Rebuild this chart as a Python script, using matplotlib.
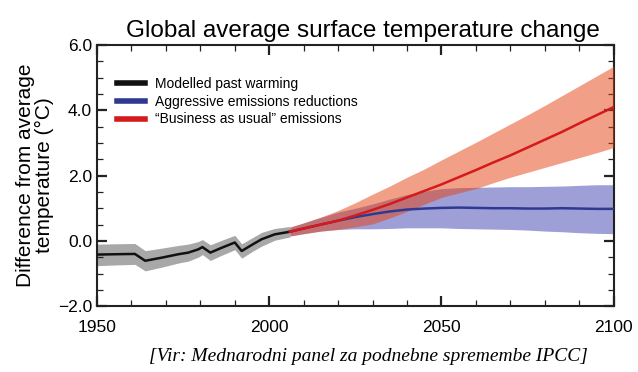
import matplotlib
matplotlib.use("Agg")
from matplotlib import pyplot as plt
from matplotlib.ticker import MultipleLocator

plt.rcParams['font.family'] = ['Liberation Sans', 'DejaVu Sans']

# modelled past warming
past_years = [1950, 1955, 1961, 1964, 1969, 1973.6, 1976.5, 1979.4, 1980.6, 1982.9,
              1986, 1990, 1992, 1995, 1997.8, 2001.6, 2006]
past = [-0.42, -0.41, -0.40, -0.61, -0.51, -0.41, -0.36, -0.26, -0.19, -0.36,
        -0.22, -0.05, -0.31, -0.12, 0.05, 0.20, 0.28]
past_lo = [-0.76, -0.74, -0.72, -0.92, -0.80, -0.68, -0.62, -0.50, -0.42, -0.60,
           -0.45, -0.27, -0.53, -0.33, -0.16, 0.02, 0.12]
past_hi = [-0.10, -0.09, -0.08, -0.30, -0.22, -0.14, -0.10, -0.02, 0.04, -0.12,
           0.01, 0.17, -0.09, 0.09, 0.26, 0.38, 0.44]

# projections
fut_years = [2006, 2010, 2015, 2020, 2025, 2030, 2035, 2040, 2045, 2050,
             2055, 2060, 2065, 2070, 2075, 2080, 2085, 2090, 2095, 2100]
bau = [0.28, 0.38, 0.50, 0.62, 0.78, 0.95, 1.13, 1.33, 1.53, 1.73,
       1.95, 2.17, 2.40, 2.62, 2.86, 3.10, 3.34, 3.60, 3.85, 4.10]
bau_hi = [0.42, 0.55, 0.73, 0.93, 1.17, 1.43, 1.68, 1.95, 2.20, 2.48,
          2.75, 3.02, 3.30, 3.58, 3.86, 4.15, 4.45, 4.75, 5.05, 5.35]
bau_lo = [0.15, 0.22, 0.30, 0.35, 0.43, 0.52, 0.70, 0.90, 1.12, 1.33,
          1.47, 1.60, 1.78, 1.95, 2.10, 2.25, 2.40, 2.55, 2.70, 2.86]
aggr = [0.28, 0.38, 0.50, 0.62, 0.73, 0.82, 0.90, 0.96, 0.99, 1.01,
        1.02, 1.01, 1.00, 1.00, 0.99, 0.99, 1.00, 0.99, 0.98, 0.98]
aggr_hi = [0.42, 0.55, 0.72, 0.88, 1.00, 1.13, 1.28, 1.42, 1.52, 1.60,
           1.63, 1.64, 1.65, 1.66, 1.66, 1.67, 1.68, 1.70, 1.72, 1.72]
aggr_lo = [0.15, 0.22, 0.30, 0.35, 0.37, 0.37, 0.38, 0.40, 0.40, 0.40,
           0.38, 0.37, 0.36, 0.35, 0.33, 0.30, 0.28, 0.25, 0.23, 0.22]

fig = plt.figure(figsize=(6.38, 3.72), dpi=100)
ax = fig.add_axes([0.152, 0.177, 0.81, 0.702])

ax.fill_between(past_years, past_lo, past_hi, color='#a8a8a8', lw=0, zorder=1)
ax.plot(past_years, past, color='#111111', lw=1.8, zorder=5, label='Modelled past warming')

ax.fill_between(fut_years, aggr_lo, aggr_hi, color='#9f9fd8', lw=0, zorder=2)
ax.fill_between(fut_years, bau_lo, bau_hi, color='#e5410f', alpha=0.5, lw=0, zorder=3)
ax.plot(fut_years, aggr, color='#2e3a92', lw=1.8, zorder=4, label='Aggressive emissions reductions')
ax.plot(fut_years, bau, color='#d41a1a', lw=1.8, zorder=5, label='\u201cBusiness as usual\u201d emissions')

ax.set_xlim(1950, 2100)
ax.set_ylim(-2, 6)
ax.set_xticks([1950, 2000, 2050, 2100])
ax.set_yticks([-2, 0, 2, 4, 6])
ax.set_yticklabels(['\u22122.0', '0.0', '2.0', '4.0', '6.0'])
ax.xaxis.set_minor_locator(MultipleLocator(10))
ax.yaxis.set_minor_locator(MultipleLocator(0.5))
ax.tick_params(which='both', direction='in', top=True, right=True, labelsize=12.5, color='#222222')
ax.tick_params(which='major', length=7, width=1.6)
ax.tick_params(which='minor', length=4, width=0.9)
ax.tick_params(axis='x', pad=10)
for s in ax.spines.values():
    s.set_linewidth(1.5)
    s.set_color('#222222')

ax.set_ylabel('Difference from average\ntemperature (\u00b0C)', fontsize=15, linespacing=1.0, labelpad=3)
ax.set_title('Global average surface temperature change', fontsize=17.5, pad=6, x=0.515)

leg = ax.legend(loc='upper left', bbox_to_anchor=(0.028, 0.9), frameon=False, fontsize=10,
                handlelength=2.0, handletextpad=0.75, labelspacing=0.28, borderaxespad=0)
for h in leg.get_lines():
    h.set_linewidth(4)

fig.text(0.578, 0.03, '[Vir: Mednarodni panel za podnebne spremembe IPCC]', ha='center',
         fontsize=14, style='italic', family=['Liberation Serif', 'DejaVu Serif'])

plt.savefig('out.png', dpi=100)
